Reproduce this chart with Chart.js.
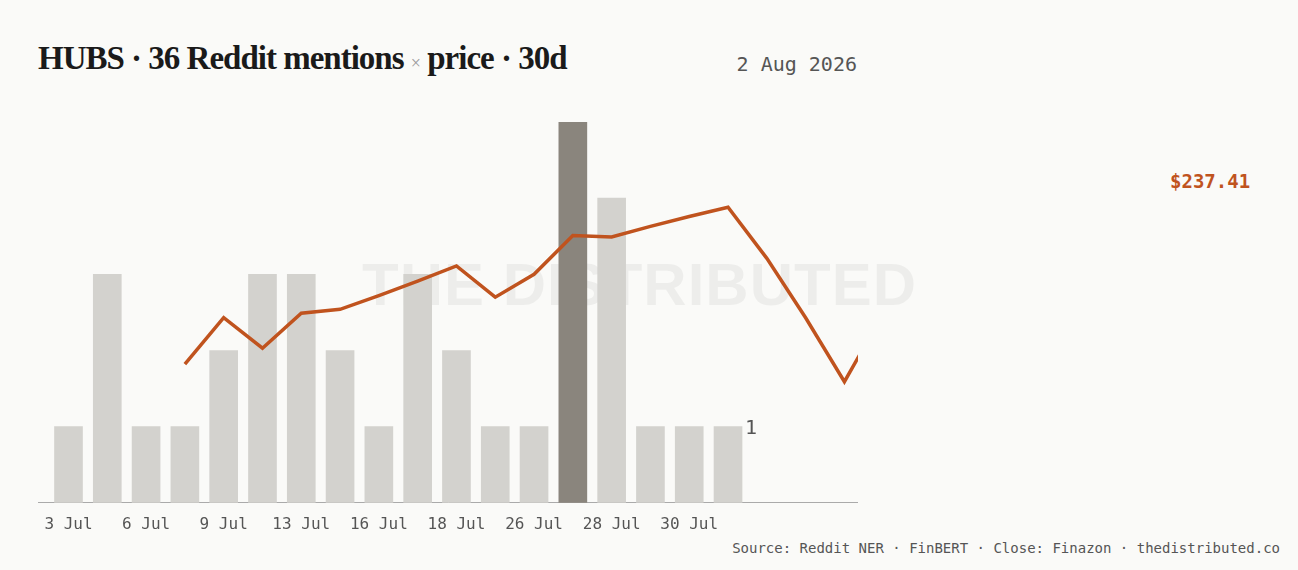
<!DOCTYPE html>
<html><head><meta charset="utf-8">
<script src="https://cdn.jsdelivr.net/npm/chart.js@4"></script>
<style>
body{margin:0;background:#fafaf8;width:1298px;height:570px;overflow:hidden;position:relative;font-family:"DejaVu Sans Mono",monospace}
#title{position:absolute;left:38px;top:40px;font-family:"Liberation Serif","DejaVu Serif",serif;font-weight:bold;font-size:33px;color:#1a1a1a;letter-spacing:-1px}
#title .x{font-size:18px;color:#999;font-weight:normal}
#date{position:absolute;right:441px;top:52px;font-size:20px;color:#555}
#src{position:absolute;right:18px;top:540px;font-size:14px;color:#555}
#price{position:absolute;left:1170px;top:170px;font-size:19px;color:#c0531e;font-weight:bold}
#wm{position:absolute;left:362px;top:250px;font-family:"Liberation Sans",sans-serif;font-size:60px;color:rgba(0,0,0,0.05);font-weight:bold;letter-spacing:1px}
#one{position:absolute;left:745px;top:415px;font-size:20px;color:#555}
#wrap{position:absolute;left:38px;top:122px;width:820px;height:416px}
</style></head><body>
<div id="title">HUBS · 36 Reddit mentions <span class="x">×</span> price · 30d</div>
<div id="date">2 Aug 2026</div>
<div id="wm">THE DISTRIBUTED</div>
<div id="wrap"><canvas id="c"></canvas></div>
<div id="one">1</div>
<div id="price">$237.41</div>
<div id="src">Source: Reddit NER · FinBERT · Close: Finazon · thedistributed.co</div>
<script>
const mentions=[1,3,1,1,2,3,3,2,1,3,2,1,1,5,4,1,1,1];
const highlight=13;
const priceIdx=[3,4,5,6,7,8,9,10,11,12,13,14,15,16,17,18,19,20,21];
const prices=[218.2,224.3,220.3,224.9,225.4,227.2,229.1,231.1,227.0,230.0,235.1,234.9,236.3,237.6,238.8,232.1,224.3,215.9,224.9];
const tickIdx=[0,2,4,6,8,10,12,14,16];
const tickLabels=["3 Jul","6 Jul","9 Jul","13 Jul","16 Jul","18 Jul","26 Jul","28 Jul","30 Jul"];
new Chart(document.getElementById('c'),{
 data:{datasets:[
  {type:'line',data:priceIdx.map((x,i)=>({x,y:prices[i]})),yAxisID:'y2',borderColor:'#c0531e',borderWidth:3.5,pointRadius:0,tension:0,order:0},
  {type:'bar',data:mentions.map((y,x)=>({x,y})),yAxisID:'y',barThickness:28,backgroundColor:mentions.map((v,i)=>i===highlight?'#8a857d':'#d3d2ce'),order:1}
 ]},
 options:{responsive:true,maintainAspectRatio:false,animation:false,layout:{padding:0},
  plugins:{legend:{display:false},tooltip:{enabled:false}},
  scales:{
   x:{type:'linear',offset:false,min:-0.786,max:20.35,grid:{display:false,offset:false},border:{color:'#aaa'},
     afterBuildTicks:s=>{s.ticks=tickIdx.map(v=>({value:v}))},
     ticks:{autoSkip:false,maxRotation:0,color:'#555',font:{family:'DejaVu Sans Mono',size:16},padding:4,
       callback:v=>{const k=tickIdx.indexOf(v);return k<0?'':tickLabels[k]}}},
   y:{min:0,max:5,display:false},
   y2:{min:200,max:250,display:false}
  }}
});
</script></body></html>
